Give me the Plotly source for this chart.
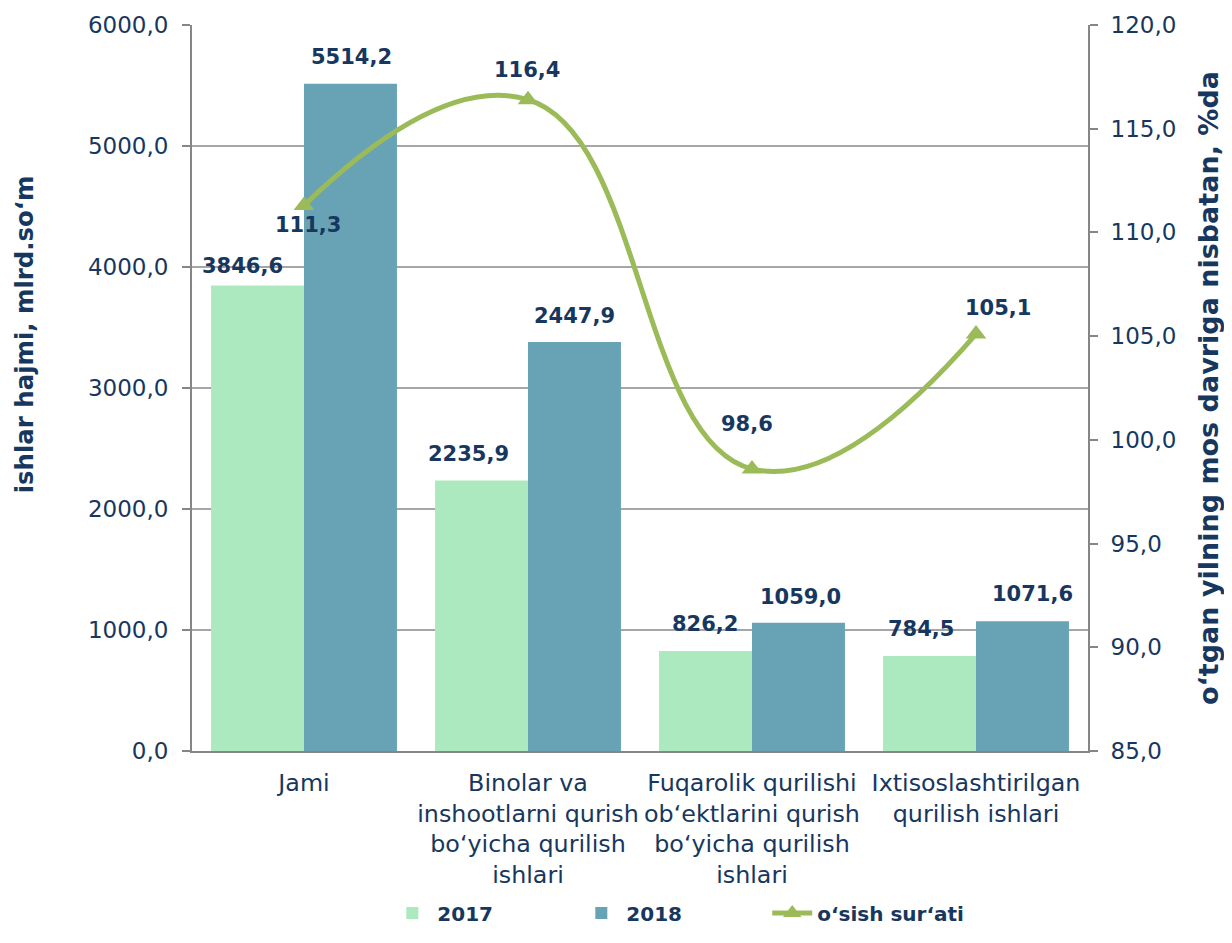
import plotly.graph_objects as go

categories = [
    "Jami",
    "Binolar va<br>inshootlarni qurish<br>bo‘yicha qurilish<br>ishlari",
    "Fuqarolik qurilishi<br>ob‘ektlarini qurish<br>bo‘yicha qurilish<br>ishlari",
    "Ixtisoslashtirilgan<br>qurilish ishlari",
]
values_2017 = [3846.6, 2235.9, 826.2, 784.5]
values_2018 = [5514.2, 3380.0, 1059.0, 1071.6]   # bar heights as drawn
labels_2017 = ["3846,6", "2235,9", "826,2", "784,5"]
labels_2018 = ["5514,2", "2447,9", "1059,0", "1071,6"]
growth = [111.3, 116.4, 98.6, 105.1]
growth_labels = ["111,3", "116,4", "98,6", "105,1"]

NAVY = "#17375E"
C2017 = "#ADE9BE"
C2018 = "#68A2B5"
CLINE = "#9BBB59"
FONT = "DejaVu Sans"

fig = go.Figure()
fig.add_trace(go.Bar(x=categories, y=values_2017, name="2017", marker_color=C2017,
                     marker_line_width=0, legend="legend"))
fig.add_trace(go.Bar(x=categories, y=values_2018, name="2018", marker_color=C2018,
                     marker_line_width=0, legend="legend"))
fig.add_trace(go.Scatter(x=categories, y=growth, name="o‘sish sur‘ati", yaxis="y2",
                         mode="lines+markers", legend="legend2",
                         line=dict(color=CLINE, width=5, shape="spline", smoothing=1.3),
                         marker=dict(symbol="triangle-up", size=18, color=CLINE)))

# label placement (pixel offsets, style only)
dx17 = [-62, -60, -47, -55]
dy17 = [20, 26, 27, 27]
dx18 = [47, 46, 48, 56]
dy18 = [27, 26, 26, 27]
gdx = [4, -1, -5, 22]
gdy = [-20, 30, 45, 26]

ann = []
lab_font = dict(family=FONT, size=21, color=NAVY, weight="bold")
for i, c in enumerate(categories):
    ann.append(dict(x=c, y=values_2017[i], xref="x", yref="y", text=labels_2017[i],
                    showarrow=False, xshift=dx17[i], yshift=dy17[i], font=lab_font))
    ann.append(dict(x=c, y=values_2018[i], xref="x", yref="y", text=labels_2018[i],
                    showarrow=False, xshift=dx18[i], yshift=dy18[i], font=lab_font))
    ann.append(dict(x=c, y=growth[i], xref="x", yref="y2", text=growth_labels[i],
                    showarrow=False, xshift=gdx[i], yshift=gdy[i], font=lab_font))

# left axis title (placed as rotated text, offset upward like the original)
ann.append(dict(x=-0.1875, y=0.574, xref="paper", yref="paper", text="ishlar hajmi, mlrd.so‘m",
                textangle=-90, showarrow=False, xanchor="center", yanchor="middle",
                font=dict(family=FONT, size=24.4, color=NAVY, weight="bold")))

leg_font = dict(family=FONT, size=20, color=NAVY, weight="bold")
fig.update_layout(
    width=1224, height=935,
    margin=dict(l=184, r=144, t=17, b=192, autoexpand=False),
    paper_bgcolor="white", plot_bgcolor="white",
    separators=", ",
    barmode="group", bargap=0.17, bargroupgap=0,
    font=dict(family=FONT, color=NAVY, size=23),
    showlegend=True,
    legend=dict(orientation="h", x=0.218, xanchor="left", y=-0.223, yanchor="middle",
                font=leg_font, entrywidth=134, entrywidthmode="pixels", itemwidth=40),
    legend2=dict(orientation="h", x=0.642, xanchor="left", y=-0.223, yanchor="middle",
                 font=leg_font, itemwidth=40),
    xaxis=dict(showline=True, linecolor="#868686", linewidth=2, ticks="",
               ticklabelstandoff=9,
               tickfont=dict(size=23.8, color=NAVY), showgrid=False),
    yaxis=dict(range=[0, 6000], dtick=1000, tickformat=".1f",
               showline=True, linecolor="#868686", linewidth=2,
               ticks="outside", ticklen=8, tickcolor="#868686", tickwidth=2,
               ticklabelstandoff=9,
               showgrid=True, gridcolor="#A6A6A6", gridwidth=2, zeroline=False,
               tickfont=dict(size=23, color=NAVY)),
    yaxis2=dict(range=[85, 120], dtick=5, tickformat=".1f", overlaying="y", side="right",
                showline=True, linecolor="#868686", linewidth=2,
                ticks="outside", ticklen=8, tickcolor="#868686", tickwidth=2,
                ticklabelstandoff=8,
                showgrid=False, zeroline=False,
                tickfont=dict(size=23, color=NAVY),
                title=dict(text="o‘tgan yilning mos davriga nisbatan, %da", standoff=24,
                           font=dict(size=27, color=NAVY, weight="bold"))),
    annotations=ann,
)

fig.write_html("out.html")
